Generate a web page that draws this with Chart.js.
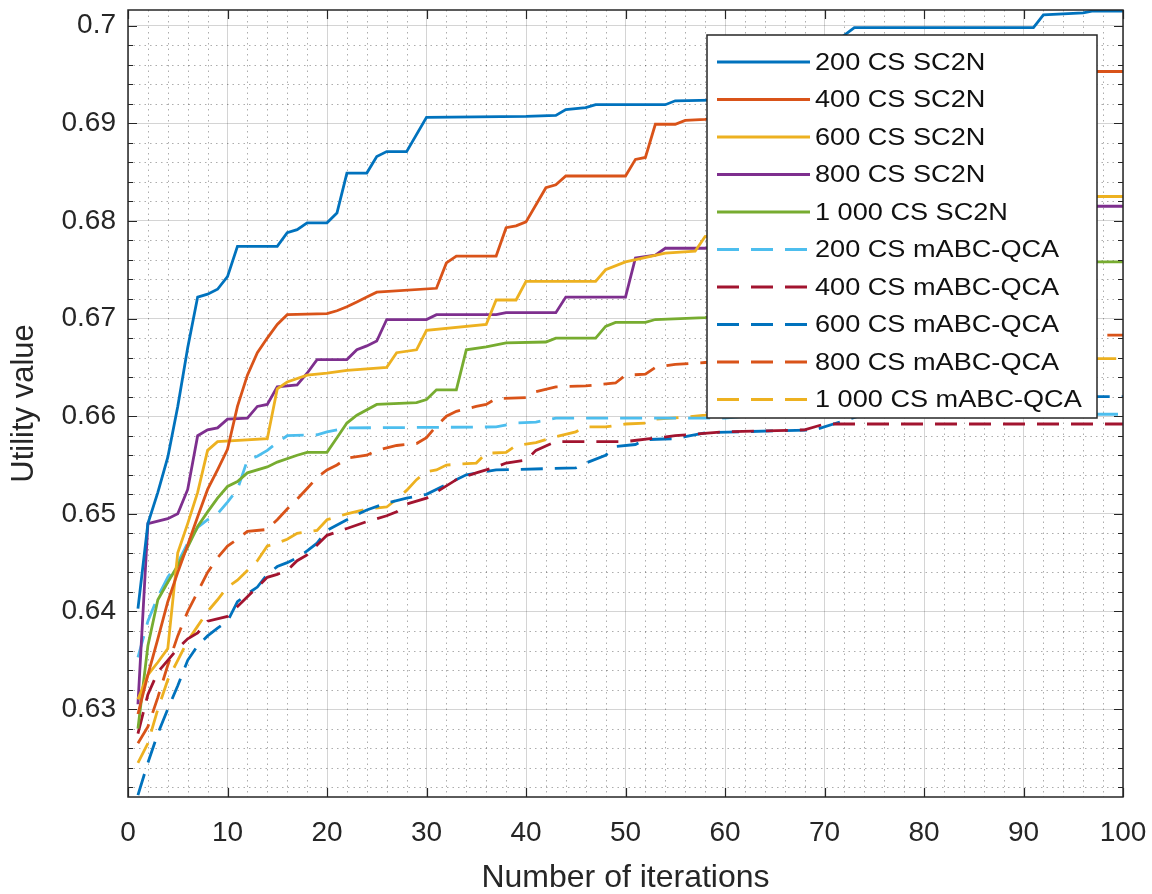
<!DOCTYPE html>
<html>
<head>
<meta charset="utf-8">
<script src="https://cdn.jsdelivr.net/npm/chart.js@4.4.1/dist/chart.umd.min.js"></script>
<style>
  html, body { margin: 0; padding: 0; background: #fff; }
  #wrap { width: 1152px; height: 894px; }
</style>
</head>
<body>
<div id="wrap"><canvas id="chart" width="1152" height="894"></canvas></div>
<script>
// axis limits
const xLimits = [0, 100];
const yLimits = [0.621, 0.7016];

// [iteration, utility] breakpoints per run
const sc2n200 = [[1,0.6403],[2,0.6490],[3,0.6522],[4,0.6558],[5,0.6610],[6,0.6670],[7,0.6722],[8,0.6725],[9,0.6730],[10,0.6743],[11,0.6774],[15,0.6774],[16,0.6788],[17,0.6791],[18,0.6798],[20,0.6798],[21,0.6808],[22,0.6849],[24,0.6849],[25,0.6866],[26,0.6871],[28,0.6871],[30,0.6906],[40,0.6907],[43,0.6908],[44,0.6914],[46,0.6916],[47,0.6919],[54,0.6919],[55,0.6923],[60,0.6924],[65,0.6950],[70,0.6975],[73,0.6998],[91,0.6998],[92,0.7011],[96,0.7013],[97,0.7015],[100,0.7015]];
const sc2n400 = [[1,0.6295],[2,0.6335],[3,0.6372],[4,0.6410],[5,0.6440],[6,0.6468],[7,0.6497],[8,0.6525],[9,0.6545],[10,0.6566],[11,0.6610],[12,0.6642],[13,0.6665],[14,0.6680],[15,0.6694],[16,0.6704],[20,0.6705],[21,0.6708],[22,0.6712],[23,0.6717],[24,0.6722],[25,0.6727],[31,0.6731],[32,0.6757],[33,0.6764],[37,0.6764],[38,0.6793],[39,0.6795],[40,0.6799],[42,0.6834],[43,0.6837],[44,0.6846],[50,0.6846],[51,0.6863],[52,0.6865],[53,0.6899],[55,0.6899],[56,0.6903],[58,0.6904],[65,0.6912],[75,0.6925],[88,0.6938],[96,0.6942],[97,0.6953],[100,0.6953]];
const sc2n600 = [[1,0.6310],[2,0.6335],[3,0.6348],[4,0.6362],[5,0.6460],[6,0.6490],[7,0.6522],[8,0.6565],[9,0.6574],[14,0.6577],[15,0.6628],[16,0.6635],[18,0.6642],[20,0.6644],[22,0.6647],[26,0.6650],[27,0.6665],[29,0.6668],[30,0.6688],[36,0.6694],[37,0.6719],[39,0.6719],[40,0.6738],[47,0.6738],[48,0.6750],[50,0.6758],[54,0.6767],[57,0.6769],[58,0.6784],[65,0.6795],[80,0.6810],[97,0.6825],[100,0.6825]];
const sc2n800 = [[1,0.6305],[2,0.6490],[4,0.6495],[5,0.6500],[6,0.6525],[7,0.6580],[8,0.6586],[9,0.6588],[10,0.6597],[12,0.6598],[13,0.6610],[14,0.6612],[15,0.6630],[17,0.6632],[18,0.6644],[19,0.6658],[22,0.6658],[23,0.6668],[24,0.6672],[25,0.6677],[26,0.6699],[30,0.6699],[31,0.6704],[37,0.6704],[38,0.6706],[43,0.6706],[44,0.6722],[50,0.6722],[51,0.6762],[53,0.6765],[54,0.6772],[58,0.6772],[70,0.6790],[85,0.6805],[97,0.6815],[100,0.6815]];
const sc2n1000 = [[1,0.6280],[2,0.6365],[3,0.6412],[4,0.6430],[5,0.6447],[6,0.6466],[7,0.6487],[8,0.6502],[9,0.6516],[10,0.6528],[11,0.6533],[12,0.6542],[14,0.6548],[15,0.6553],[17,0.6560],[18,0.6563],[20,0.6563],[21,0.6578],[22,0.6593],[23,0.6601],[25,0.6612],[29,0.6614],[30,0.6617],[31,0.6627],[33,0.6627],[34,0.6668],[36,0.6671],[38,0.6675],[42,0.6676],[43,0.6680],[47,0.6680],[48,0.6692],[49,0.6696],[52,0.6696],[53,0.6699],[58,0.6701],[70,0.6720],[85,0.6742],[97,0.6758],[100,0.6758]];
const qca200 = [[1,0.6353],[2,0.6390],[3,0.6415],[4,0.6435],[5,0.6450],[6,0.6470],[7,0.6486],[8,0.6494],[9,0.6500],[10,0.6512],[11,0.6525],[12,0.6555],[13,0.6559],[14,0.6565],[15,0.6573],[16,0.6580],[19,0.6581],[20,0.6584],[22,0.6588],[37,0.6589],[39,0.6593],[41,0.6594],[43,0.6598],[60,0.6598],[62,0.6600],[97,0.6602],[100,0.6602]];
const qca400 = [[1,0.6275],[2,0.6315],[3,0.6338],[4,0.6350],[5,0.6362],[6,0.6372],[7,0.6378],[8,0.6390],[10,0.6395],[11,0.6405],[12,0.6415],[13,0.6425],[14,0.6435],[15,0.6438],[16,0.6442],[17,0.6452],[18,0.6458],[19,0.6468],[20,0.6478],[22,0.6485],[24,0.6492],[26,0.6498],[27,0.6502],[28,0.6510],[30,0.6516],[33,0.6535],[35,0.6542],[37,0.6548],[38,0.6552],[40,0.6555],[41,0.6565],[43,0.6574],[50,0.6574],[55,0.6580],[60,0.6584],[68,0.6586],[70,0.6592],[100,0.6592]];
const qca600 = [[1,0.6212],[2,0.6245],[3,0.6275],[4,0.6300],[5,0.6324],[6,0.6350],[7,0.6365],[8,0.6375],[9,0.6383],[10,0.6390],[11,0.6410],[12,0.6418],[13,0.6425],[14,0.6438],[15,0.6446],[16,0.6450],[17,0.6455],[18,0.6462],[19,0.6470],[20,0.6483],[22,0.6494],[24,0.6504],[26,0.6511],[28,0.6516],[30,0.6520],[32,0.6530],[34,0.6540],[37,0.6545],[45,0.6547],[46,0.6552],[48,0.6560],[49,0.6569],[51,0.6571],[52,0.6576],[55,0.6577],[56,0.6579],[58,0.6583],[65,0.6585],[69,0.6586],[75,0.6605],[85,0.6612],[97,0.6620],[100,0.6620]];
const qca800 = [[1,0.6265],[2,0.6282],[3,0.6312],[4,0.6345],[5,0.6375],[6,0.6400],[7,0.6420],[8,0.6440],[9,0.6455],[10,0.6467],[11,0.6474],[12,0.6482],[14,0.6484],[15,0.6494],[16,0.6505],[17,0.6515],[18,0.6526],[19,0.6537],[20,0.6545],[21,0.6550],[22,0.6557],[24,0.6560],[25,0.6565],[27,0.6570],[29,0.6572],[30,0.6578],[31,0.6590],[32,0.6600],[33,0.6605],[35,0.6610],[36,0.6612],[37,0.6618],[40,0.6619],[41,0.6625],[43,0.6630],[46,0.6631],[49,0.6634],[50,0.6642],[52,0.6643],[53,0.6650],[55,0.6653],[58,0.6655],[70,0.6665],[85,0.6675],[97,0.6683],[100,0.6683]];
const qca1000 = [[1,0.6245],[2,0.6265],[3,0.6300],[4,0.6330],[5,0.6350],[6,0.6370],[7,0.6385],[8,0.6400],[9,0.6412],[10,0.6425],[11,0.6432],[12,0.6442],[13,0.6452],[14,0.6467],[15,0.6470],[16,0.6474],[17,0.6480],[19,0.6483],[20,0.6494],[22,0.6500],[24,0.6505],[26,0.6507],[27,0.6515],[28,0.6524],[29,0.6535],[30,0.6543],[31,0.6545],[32,0.6550],[35,0.6552],[36,0.6562],[38,0.6563],[39,0.6570],[41,0.6573],[43,0.6579],[45,0.6584],[46,0.6589],[48,0.6589],[50,0.6592],[52,0.6593],[53,0.6597],[56,0.6599],[58,0.6601],[70,0.6620],[85,0.6645],[97,0.6659],[100,0.6659]];

const seriesLabels = ['200 CS SC2N', '400 CS SC2N', '600 CS SC2N', '800 CS SC2N', '1 000 CS SC2N',
  '200 CS mABC-QCA', '400 CS mABC-QCA', '600 CS mABC-QCA', '800 CS mABC-QCA', '1 000 CS mABC-QCA'];
const seriesData = [sc2n200, sc2n400, sc2n600, sc2n800, sc2n1000, qca200, qca400, qca600, qca800, qca1000];

// matlab default colour order
const palette = ['#0072BD', '#D95319', '#EDB120', '#7E2F8E', '#77AC30', '#4DBEEE', '#A2142F'];
const DASH = [22, 12];
const LINE_W = 2.8;
const INK = '#262626';
const FONT = "'Liberation Sans', Arial, Helvetica, sans-serif";

Chart.defaults.font.family = FONT;

const datasets = seriesData.map((pts, i) => ({
    label: seriesLabels[i],
    data: pts.map(p => ({ x: p[0], y: p[1] })),
    borderColor: palette[i % palette.length],
    borderWidth: LINE_W,
    borderDash: i < 5 ? [] : DASH,
    borderCapStyle: 'butt',
    pointRadius: 0,
    tension: 0,
    fill: false
}));

// minor dotted grid, inward ticks, box and inner legend (matlab look)
const matlabFrame = {
    id: 'matlabFrame',
    beforeDatasetsDraw(chart) {
        const { ctx, chartArea: a, scales: { x, y } } = chart;
        ctx.save();
        ctx.strokeStyle = 'rgba(0,0,0,0.32)';
        ctx.lineWidth = 1;
        ctx.setLineDash([1.5, 4]);
        ctx.beginPath();
        for (let v = 2; v < 100; v += 2) {
            if (v % 10 === 0) continue;
            const px = Math.round(x.getPixelForValue(v)) + 0.5;
            ctx.moveTo(px, a.top); ctx.lineTo(px, a.bottom);
        }
        for (let k = 622; k <= 700; k += 2) {
            if (k % 10 === 0) continue;
            const py = Math.round(y.getPixelForValue(k / 1000)) + 0.5;
            ctx.moveTo(a.left, py); ctx.lineTo(a.right, py);
        }
        ctx.stroke();
        ctx.restore();
    },
    afterDatasetsDraw(chart) {
        const { ctx, chartArea: a, scales: { x, y } } = chart;
        ctx.save();

        // legend box
        const lx = a.right - 416, ly = a.top + 25, lw = 390, lh = 383, rowH = 37.5;
        ctx.fillStyle = '#fff';
        ctx.fillRect(lx, ly, lw, lh);
        ctx.strokeStyle = INK;
        ctx.lineWidth = 1.5;
        ctx.strokeRect(lx, ly, lw, lh);
        chart.data.datasets.forEach((ds, i) => {
            const cy = ly + 27 + i * rowH;
            ctx.strokeStyle = ds.borderColor;
            ctx.lineWidth = LINE_W;
            ctx.setLineDash(ds.borderDash);
            ctx.beginPath();
            ctx.moveTo(lx + 10, cy); ctx.lineTo(lx + 103, cy);
            ctx.stroke();
            ctx.setLineDash([]);
            ctx.save();
            ctx.translate(lx + 108, cy + 1);
            ctx.scale(1.13, 1);
            ctx.fillStyle = '#111';
            ctx.font = `24px ${FONT}`;
            ctx.textBaseline = 'middle';
            ctx.fillText(ds.label, 0, 0);
            ctx.restore();
        });

        // inward tick marks
        ctx.strokeStyle = INK;
        ctx.lineWidth = 1.2;
        ctx.beginPath();
        for (let v = 0; v <= 100; v += 10) {
            const px = Math.round(x.getPixelForValue(v)) + 0.5;
            ctx.moveTo(px, a.bottom); ctx.lineTo(px, a.bottom - 9);
            ctx.moveTo(px, a.top); ctx.lineTo(px, a.top + 9);
        }
        for (let k = 622; k <= 700; k += 2) {
            const len = k % 10 === 0 ? 9 : 5;
            const py = Math.round(y.getPixelForValue(k / 1000)) + 0.5;
            ctx.moveTo(a.left, py); ctx.lineTo(a.left + len, py);
            ctx.moveTo(a.right, py); ctx.lineTo(a.right - len, py);
        }
        ctx.stroke();

        // axes box
        ctx.lineWidth = 1.5;
        ctx.strokeRect(a.left, a.top, a.right - a.left, a.bottom - a.top);
        ctx.restore();
    }
};

new Chart(document.getElementById('chart'), {
    type: 'line',
    data: { datasets },
    options: {
        responsive: false,
        animation: false,
        layout: { padding: { top: 10, right: 29, left: 0, bottom: 0 } },
        plugins: { legend: { display: false }, tooltip: { enabled: false } },
        scales: {
            x: {
                type: 'linear',
                min: xLimits[0],
                max: xLimits[1],
                afterFit: s => { s.height = 97; s.paddingLeft = 0; s.paddingRight = 0; },
                grid: { color: 'rgba(0,0,0,0.17)', lineWidth: 1, drawTicks: false },
                border: { display: false },
                ticks: { stepSize: 10, padding: 19, maxRotation: 0, autoSkip: false, color: INK, font: { size: 28 } },
                title: { display: true, text: 'Number of iterations', color: INK, font: { size: 32, lineHeight: 1 }, padding: { top: 0, bottom: 0 } }
            },
            y: {
                type: 'linear',
                min: yLimits[0],
                max: yLimits[1],
                afterFit: s => { s.width = 128; s.paddingTop = 0; s.paddingBottom = 0; },
                grid: { color: 'rgba(0,0,0,0.17)', lineWidth: 1, drawTicks: false },
                border: { display: false },
                ticks: {
                    stepSize: 0.01,
                    includeBounds: false,
                    padding: 12,
                    color: INK,
                    font: { size: 28 },
                    callback: v => String(Math.round(v * 100) / 100)
                },
                title: { display: true, text: 'Utility value', color: INK, font: { size: 31, lineHeight: 1 }, padding: { top: 9, bottom: 0 } }
            }
        }
    },
    plugins: [matlabFrame]
});
</script>
</body>
</html>
